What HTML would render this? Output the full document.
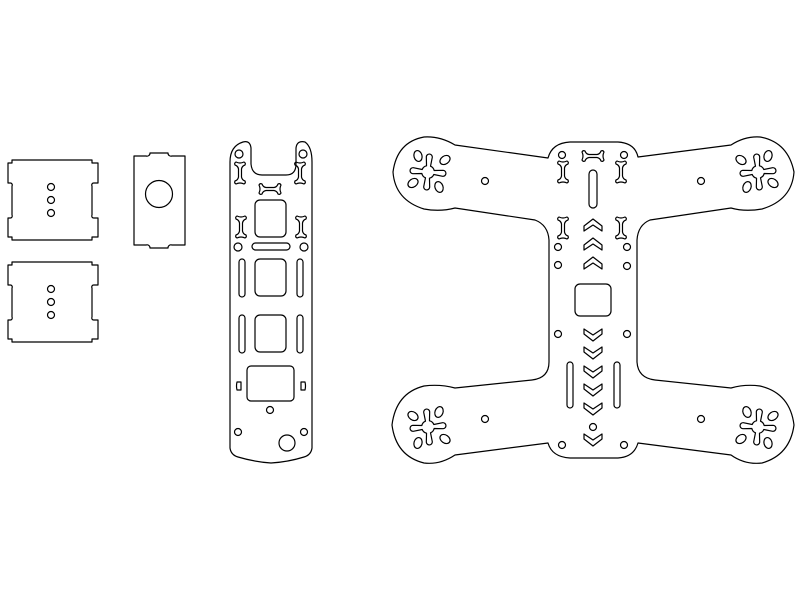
<!DOCTYPE html>
<html><head><style>html,body{margin:0;padding:0;background:#fff;}svg{display:block}</style></head>
<body>
<svg width="800" height="600" viewBox="0 0 800 600" xmlns="http://www.w3.org/2000/svg">
<defs>
<path id="ib" d="M-4,-11 Q0,-9 4,-11 Q6,-10 5,-8 Q2,-7 1.5,-4 L1.5,4 Q2,7 5,8 Q6,10 4,11 Q0,9 -4,11 Q-6,10 -5,8 Q-2,7 -1.5,4 L-1.5,-4 Q-2,-7 -5,-8 Q-6,-10 -4,-11 Z"/>
<path id="ch" d="M-9,0 L0,-7 L9,0 L9,5 L0,-1 L-9,5 Z"/>
<path id="cd" d="M-9,0 L0,7 L9,0 L9,-5 L0,1 L-9,-5 Z"/>
<g id="mm">
<path d="M6,-2 L15,-3 A2,2 0 0 1 15,3 L6,2 A6,6 0 0 1 2,6 L3,15 A2,2 0 0 1 -3,15 L-2,6 A6,6 0 0 1 -6,2 L-15,3 A2,2 0 0 1 -15,-3 L-6,-2 A6,6 0 0 1 -2,-6 L-3,-15 A2,2 0 0 1 3,-15 L2,-6 A6,6 0 0 1 6,-2 Z" transform="rotate(5)"/>
<ellipse cx="-10" cy="-16" rx="4" ry="5.5" transform="rotate(-15 -10 -16)"/>
<ellipse cx="17" cy="-12" rx="4" ry="5.5" transform="rotate(55 17 -12)"/>
<ellipse cx="-15" cy="11" rx="4" ry="5.5" transform="rotate(55 -15 11)"/>
<ellipse cx="11" cy="15" rx="4" ry="5.5" transform="rotate(-20 11 15)"/>
</g>
</defs>
<g fill="none" stroke="#000" stroke-width="1.2" stroke-linejoin="round">
<path d="M12,160 L92,160 L92,163 L98,163 L98,183 L94,183 A2,2 0 0 0 92,186 L92,215 A2,2 0 0 0 94,218 L98,218 L98,237 L92,237 L92,240 L12,240 L12,237 L8,237 L8,218 L10,218 A2,2 0 0 0 12,215 L12,186 A2,2 0 0 0 10,183 L8,183 L8,163 L12,163 Z"/>
<circle cx="51" cy="187" r="3.5"/><circle cx="51" cy="200" r="3.5"/><circle cx="51" cy="213" r="3.5"/>
<g transform="translate(0,102)">
<path d="M12,160 L92,160 L92,163 L98,163 L98,183 L94,183 A2,2 0 0 0 92,186 L92,215 A2,2 0 0 0 94,218 L98,218 L98,237 L92,237 L92,240 L12,240 L12,237 L8,237 L8,218 L10,218 A2,2 0 0 0 12,215 L12,186 A2,2 0 0 0 10,183 L8,183 L8,163 L12,163 Z"/>
<circle cx="51" cy="187" r="3.5"/><circle cx="51" cy="200" r="3.5"/><circle cx="51" cy="213" r="3.5"/>
</g>
<path d="M134,156 L146,156 A3,3 0 0 0 150,153 L168,153 A3,3 0 0 0 172,156 L185,156 L185,245 L172,245 A3,3 0 0 0 168,248 L150,248 A3,3 0 0 0 146,245 L134,245 Z"/>
<circle cx="159" cy="194" r="13.5"/>
<path d="M230,162 Q230,146 243,142 Q250,140 251,148 L251,164 Q252,175 262,175 L286,175 Q296,175 296,164 L296,148 Q297,140 305,142 Q312,147 312,162 L312,448 Q311,455 304,457 Q288,462 271,463 Q255,462 238,457 Q231,455 230,448 Z"/>
<circle cx="239" cy="154" r="4"/><circle cx="303" cy="154" r="4"/>
<use href="#ib" x="240" y="173"/><use href="#ib" x="300" y="173"/>
<use href="#ib" x="270" y="189" transform="rotate(90 270 189)"/>
<rect x="255" y="200" width="31" height="37" rx="5"/>
<use href="#ib" x="241" y="227"/><use href="#ib" x="301" y="227"/>
<circle cx="238" cy="247" r="4"/><circle cx="304" cy="247" r="4"/>
<rect x="252" y="243" width="38" height="7" rx="3.5"/>
<rect x="239" y="259" width="6" height="38" rx="3"/><rect x="297" y="259" width="6" height="38" rx="3"/>
<rect x="255" y="259" width="31" height="37" rx="5"/>
<rect x="239" y="315" width="6" height="38" rx="3"/><rect x="297" y="315" width="6" height="38" rx="3"/>
<rect x="255" y="315" width="31" height="37" rx="5"/>
<rect x="247" y="366" width="47" height="35" rx="4"/>
<path d="M237,382 L241,382 L241,390 L237,390 Q236,386 237,382 Z"/>
<path d="M301,382 L305,382 Q306,386 305,390 L301,390 Z"/>
<circle cx="270" cy="410" r="3.5"/>
<circle cx="238" cy="432" r="3.5"/><circle cx="304" cy="432" r="3.5"/>
<circle cx="287" cy="443" r="8"/>
<path d="M548,158 Q552,143 570,142 L618,142 Q635,143 638,157 L731,145 Q745,136 760,137 Q788,142 794,172 Q792,200 762,209 Q745,212 731,208 L650,220 Q638,225 637,240 L637,362 Q638,378 655,380 L731,388 Q745,384 760,386 Q790,393 794,425 Q790,455 762,463 Q745,465 731,455 L638,443 Q634,457 618,458 L570,458 Q552,457 548,443 L455,455 Q440,465 424,463 Q396,456 392,425 Q396,393 424,386 Q440,384 455,388 L532,380 Q549,378 549,362 L549,240 Q548,225 535,220 L455,208 Q440,212 424,209 Q395,200 393,172 Q397,142 424,137 Q440,136 455,145 Z"/>
<use href="#mm" x="428" y="172"/>
<use href="#mm" x="758" y="172" transform="translate(1516,0) scale(-1,1)"/>
<use href="#mm" x="428" y="427" transform="translate(0,854) scale(1,-1)"/>
<use href="#mm" x="758" y="427" transform="translate(1516,854) scale(-1,-1)"/>
<circle cx="485" cy="181" r="3.5"/><circle cx="701" cy="181" r="3.5"/>
<circle cx="485" cy="419" r="3.5"/><circle cx="701" cy="419" r="3.5"/>
<circle cx="562" cy="155" r="3.5"/><circle cx="624" cy="155" r="3.5"/>
<use href="#ib" x="593" y="156" transform="rotate(90 593 156)"/>
<use href="#ib" x="563" y="172"/><use href="#ib" x="621" y="172"/>
<rect x="589" y="170" width="8" height="38" rx="4"/>
<use href="#ib" x="563" y="228"/><use href="#ib" x="621" y="228"/>
<use href="#ch" x="593" y="226"/><use href="#ch" x="593" y="245"/><use href="#ch" x="593" y="264"/>
<circle cx="558" cy="247" r="3.5"/><circle cx="627" cy="247" r="3.5"/>
<circle cx="558" cy="265" r="3.5"/><circle cx="627" cy="266" r="3.5"/>
<rect x="575" y="284" width="36" height="32" rx="5"/>
<circle cx="558" cy="334" r="3.5"/><circle cx="627" cy="334" r="3.5"/>
<use href="#cd" x="593" y="334"/><use href="#cd" x="593" y="352"/><use href="#cd" x="593" y="371"/><use href="#cd" x="593" y="389"/><use href="#cd" x="593" y="408"/>
<rect x="567" y="362" width="6" height="46" rx="3"/><rect x="614" y="362" width="6" height="46" rx="3"/>
<circle cx="593" cy="427" r="3.5"/>
<use href="#cd" x="593" y="439"/>
<circle cx="562" cy="445" r="3.5"/><circle cx="624" cy="445" r="3.5"/>
</g>
</svg>
</body></html>
